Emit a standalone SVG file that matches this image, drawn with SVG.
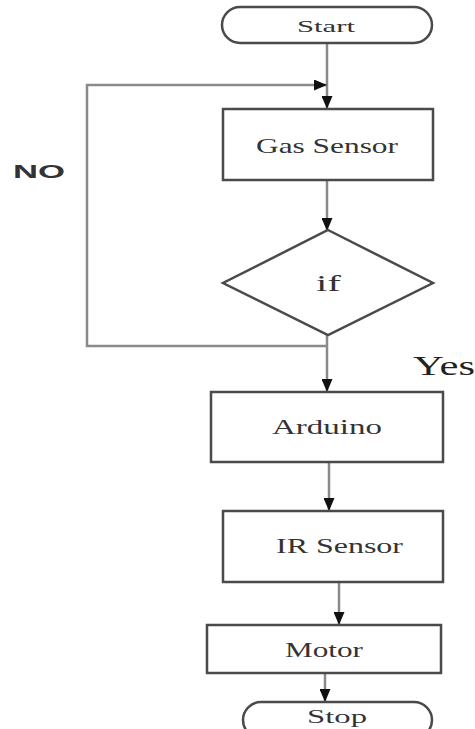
<svg xmlns="http://www.w3.org/2000/svg" width="475" height="729" viewBox="0 0 475 729">
<style>
.box{fill:#fff;stroke:#4a4a4a;stroke-width:2.5}
.lbl{font-family:"Liberation Serif","Times New Roman",serif;fill:#333;text-anchor:start}
.conn{fill:none;stroke:#8a8a8a;stroke-width:2.5}
</style>
<defs>
<marker id="ah" markerWidth="13" markerHeight="11" refX="12" refY="5.5" orient="auto" markerUnits="userSpaceOnUse">
<path d="M0,0 L13,5.5 L0,11 Z" fill="#111"/>
</marker>
</defs>
<g id="connectors">
<path class="conn" d="M327,43 V108" marker-end="url(#ah)"/>
<path class="conn" d="M327,346 H87 V85 H326" marker-end="url(#ah)"/>
<path class="conn" d="M327,180 V230" marker-end="url(#ah)"/>
<path class="conn" d="M327,335 V391" marker-end="url(#ah)"/>
<path class="conn" d="M329,462 V510" marker-end="url(#ah)"/>
<path class="conn" d="M339,582 V624" marker-end="url(#ah)"/>
<path class="conn" d="M325,673 V701" marker-end="url(#ah)"/>
</g>
<g id="start">
<rect class="box" x="222" y="7" width="210" height="36" rx="18"/>
<text class="lbl" x="297" y="32" font-size="17" textLength="58" lengthAdjust="spacingAndGlyphs">Start</text>
</g>
<g id="gas">
<rect class="box" x="223" y="109" width="210" height="71"/>
<text class="lbl" x="256" y="153" font-size="21" textLength="142" lengthAdjust="spacingAndGlyphs">Gas Sensor</text>
</g>
<g id="if">
<polygon class="box" points="328,230 433,283 328,335 223,283"/>
<text class="lbl" x="316" y="291" font-size="23" textLength="25" lengthAdjust="spacingAndGlyphs">if</text>
</g>
<g id="arduino">
<rect class="box" x="211" y="392" width="232" height="70"/>
<text class="lbl" x="272" y="434" font-size="20" textLength="110" lengthAdjust="spacingAndGlyphs">Arduino</text>
</g>
<g id="ir">
<rect class="box" x="223" y="511" width="220" height="71"/>
<text class="lbl" x="276" y="553" font-size="20" textLength="127" lengthAdjust="spacingAndGlyphs">IR Sensor</text>
</g>
<g id="motor">
<rect class="box" x="207" y="625" width="234" height="48"/>
<text class="lbl" x="285" y="657" font-size="20" textLength="78" lengthAdjust="spacingAndGlyphs">Motor</text>
</g>
<g id="stop">
<rect class="box" x="243" y="702" width="189" height="36" rx="18"/>
<text class="lbl" x="307" y="723" font-size="19" textLength="60" lengthAdjust="spacingAndGlyphs">Stop</text>
</g>
<text x="13" y="178" font-family="Liberation Sans, Arial, sans-serif" font-size="18" font-weight="bold" fill="#333" textLength="52" lengthAdjust="spacingAndGlyphs">NO</text>
<text x="413" y="375" font-family="Liberation Serif, Times New Roman, serif" font-size="27" fill="#222" textLength="62" lengthAdjust="spacingAndGlyphs">Yes</text>
</svg>
